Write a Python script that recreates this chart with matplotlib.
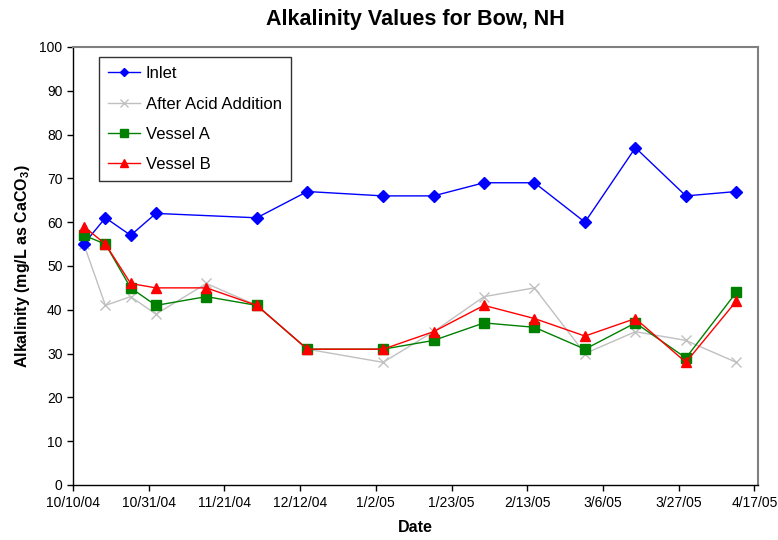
import matplotlib
matplotlib.use("Agg")
import matplotlib.pyplot as plt
import matplotlib.dates as mdates
from matplotlib.ticker import FuncFormatter, MultipleLocator
import datetime as dt

plt.rcParams['font.family'] = ['Liberation Sans', 'DejaVu Sans']
plt.rcParams['mathtext.fontset'] = 'custom'
plt.rcParams['mathtext.rm'] = 'Liberation Sans'
plt.rcParams['mathtext.bf'] = 'Liberation Sans:bold'

# Data
dates_all = ["2004-10-13", "2004-10-19", "2004-10-26", "2004-11-02", "2004-11-16",
             "2004-11-30", "2004-12-14", "2005-01-04", "2005-01-18", "2005-02-01",
             "2005-02-15", "2005-03-01", "2005-03-15", "2005-03-29", "2005-04-12"]
inlet_dates = ["2004-10-13", "2004-10-19", "2004-10-26", "2004-11-02",
               "2004-11-30", "2004-12-14", "2005-01-04", "2005-01-18", "2005-02-01",
               "2005-02-15", "2005-03-01", "2005-03-15", "2005-03-29", "2005-04-12"]
inlet = [55, 61, 57, 62, 61, 67, 66, 66, 69, 69, 60, 77, 66, 67]
after_acid = [55, 41, 43, 39, 46, 41, 31, 28, 35, 43, 45, 30, 35, 33, 28]
vessel_a = [57, 55, 45, 41, 43, 41, 31, 31, 33, 37, 36, 31, 37, 29, 44]
vessel_b = [59, 55, 46, 45, 45, 41, 31, 31, 35, 41, 38, 34, 38, 28, 42]

tick_start = "2004-10-10"
x_end = "2005-04-18"

def to_dt(lst):
    return [dt.datetime.strptime(s, "%Y-%m-%d") for s in lst]

d_all = to_dt(dates_all)
d_inlet = to_dt(inlet_dates)

fig = plt.figure(figsize=(7.78, 5.40), dpi=100)
ax = fig.add_axes([0.0938, 0.1019, 0.9743 - 0.0938, 0.913 - 0.1019])

ax.plot(d_inlet, inlet, color='#0000ff', marker='D', ms=6, lw=1, label='Inlet', zorder=3)
ax.plot(d_all, after_acid, color='#c0c0c0', marker='x', ms=7, mew=1, lw=1,
        label='After Acid Addition', zorder=2)
ax.plot(d_all, vessel_a, color='#008000', marker='s', ms=7, lw=1, label='Vessel A', zorder=4)
ax.plot(d_all, vessel_b, color='#ff0000', marker='^', ms=7.5, lw=1, label='Vessel B', zorder=5)

t0 = dt.datetime.strptime(tick_start, "%Y-%m-%d")
ax.set_xlim(t0, dt.datetime.strptime(x_end, "%Y-%m-%d"))
ax.set_ylim(0, 100)
ax.yaxis.set_major_locator(MultipleLocator(10))
ticks = [t0 + dt.timedelta(days=21 * i) for i in range(10)]
ax.set_xticks(ticks)
ax.xaxis.set_major_formatter(FuncFormatter(
    lambda v, p: (lambda d: f"{d.month}/{d.day}/{d:%y}")(mdates.num2date(v))))

ax.tick_params(axis='both', labelsize=10, direction='out', length=4, width=1, color='black')
ax.tick_params(axis='x', pad=4)

for s in ['top', 'right']:
    ax.spines[s].set_color('#808080')
    ax.spines[s].set_linewidth(1.5)
for s in ['left', 'bottom']:
    ax.spines[s].set_color('black')
    ax.spines[s].set_linewidth(1)

ax.set_title('Alkalinity Values for Bow, NH', fontsize=15.5, fontweight='bold', pad=15.5)
ax.set_xlabel('Date', fontsize=11.5, fontweight='bold', labelpad=7)
ax.set_ylabel(r'Alkalinity (mg/L as CaCO$_\mathbf{3}$)', fontsize=11.5, fontweight='bold', labelpad=5.5)

leg = ax.legend(loc='upper left', bbox_to_anchor=(0.038, 0.977), borderaxespad=0, fontsize=12,
                frameon=True, fancybox=False, edgecolor='black', handlelength=1.9,
                borderpad=0.55, labelspacing=0.92, handletextpad=0.35, markerscale=0.75)
leg.get_frame().set_linewidth(1)

fig.savefig('out.png', dpi=100)
